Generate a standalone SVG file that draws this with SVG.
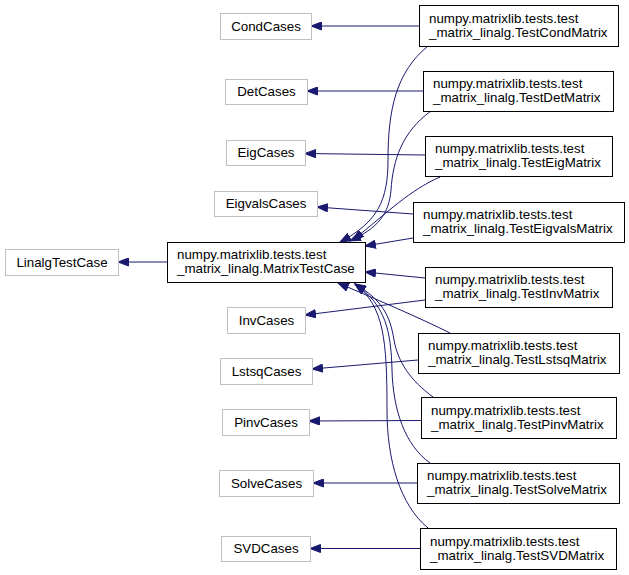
<svg xmlns="http://www.w3.org/2000/svg" width="629" height="575" viewBox="0 0 629 575">
<style>
  .g rect { fill: #ffffff; stroke: #c0c0c0; stroke-width: 1; }
  .k rect { fill: #ffffff; stroke: #000000; stroke-width: 1; }
  text { font-family: "Liberation Sans", Arial, sans-serif; font-size: 13.33px; fill: #000000; }
  .c { text-anchor: middle; }
  #edges path { fill: none; stroke: #191970; stroke-width: 1; marker-end: url(#arr); }
</style>
<defs>
  <marker id="arr" markerWidth="12" markerHeight="9" refX="11" refY="4.5" orient="auto" markerUnits="userSpaceOnUse">
    <path d="M0.5,0.5 L11,4.5 L0.5,8.5 z" fill="#191970" stroke="#191970" stroke-width="1"/>
  </marker>
</defs>
<rect width="629" height="575" fill="#ffffff"/>

<g id="edges">
  <path d="M167,262 L118,262"/>
  <path d="M419,26 L311,26"/>
  <path d="M423,91 L307,91"/>
  <path d="M425,155 L305,153.5"/>
  <path d="M413,214 L317,207"/>
  <path d="M425,300 L305,315"/>
  <path d="M418,360 L312,369"/>
  <path d="M421,420.5 L309,421"/>
  <path d="M417,483 L313,483"/>
  <path d="M420,548.5 L310,548.5"/>
  <path d="M428,46 C 396,72 388,110 388,160 C 388,200 378,222 340,242"/>
  <path d="M431,111 C 402,132 393,160 391,190 C 389,214 378,228 350,241"/>
  <path d="M440,177 C 410,190 388,212 353,240"/>
  <path d="M413,238 L365,246"/>
  <path d="M425,278 L365,272"/>
  <path d="M450,333 C 420,318 378,300 338,283"/>
  <path d="M433,397 C 410,380 398,362 394,340 C 390,315 382,300 355,284"/>
  <path d="M430,463 C 405,445 393,410 392,370 C 391,332 386,305 355,284"/>
  <path d="M428,528 C 400,505 387,460 387,410 C 387,340 384,306 355,284"/>
</g>

<g id="LinalgTestCase" class="g"><rect x="5.5" y="249.5" width="113" height="26"/><text class="c" x="62" y="266.5">LinalgTestCase</text></g>
<g id="MatrixTestCase" class="k"><rect x="167.5" y="242.5" width="198" height="40"/><text x="177" y="259">numpy.matrixlib.tests.test</text><text x="177" y="273">_matrix_linalg.MatrixTestCase</text></g>

<g id="CondCases" class="g"><rect x="220.5" y="13.5" width="91" height="26"/><text class="c" x="266" y="30.5">CondCases</text></g>
<g id="DetCases" class="g"><rect x="225.5" y="79.5" width="82" height="25"/><text class="c" x="266.5" y="96">DetCases</text></g>
<g id="EigCases" class="g"><rect x="226.5" y="140.5" width="79" height="25"/><text class="c" x="266" y="157">EigCases</text></g>
<g id="EigvalsCases" class="g"><rect x="214.5" y="191.5" width="103" height="25"/><text class="c" x="266" y="208">EigvalsCases</text></g>
<g id="InvCases" class="g"><rect x="227.5" y="307.5" width="78" height="26"/><text class="c" x="266.5" y="324.5">InvCases</text></g>
<g id="LstsqCases" class="g"><rect x="220.5" y="358.5" width="92" height="26"/><text class="c" x="266.5" y="375.5">LstsqCases</text></g>
<g id="PinvCases" class="g"><rect x="222.5" y="409.5" width="87" height="26"/><text class="c" x="266" y="426.5">PinvCases</text></g>
<g id="SolveCases" class="g"><rect x="219.5" y="470.5" width="94" height="26"/><text class="c" x="266.5" y="487.5">SolveCases</text></g>
<g id="SVDCases" class="g"><rect x="221.5" y="536.5" width="89" height="25"/><text class="c" x="266" y="553">SVDCases</text></g>

<g id="TestCondMatrix" class="k"><rect x="419.5" y="5.5" width="199" height="41"/><text x="429" y="23">numpy.matrixlib.tests.test</text><text x="429" y="37">_matrix_linalg.TestCondMatrix</text></g>
<g id="TestDetMatrix" class="k"><rect x="423.5" y="71.5" width="190" height="40"/><text x="433" y="88">numpy.matrixlib.tests.test</text><text x="433" y="102">_matrix_linalg.TestDetMatrix</text></g>
<g id="TestEigMatrix" class="k"><rect x="425.5" y="136.5" width="187" height="40"/><text x="435" y="153">numpy.matrixlib.tests.test</text><text x="435" y="167">_matrix_linalg.TestEigMatrix</text></g>
<g id="TestEigvalsMatrix" class="k"><rect x="413.5" y="202.5" width="211" height="40"/><text x="423" y="219">numpy.matrixlib.tests.test</text><text x="423" y="233">_matrix_linalg.TestEigvalsMatrix</text></g>
<g id="TestInvMatrix" class="k"><rect x="425.5" y="267.5" width="187" height="40"/><text x="435" y="284">numpy.matrixlib.tests.test</text><text x="435" y="298">_matrix_linalg.TestInvMatrix</text></g>
<g id="TestLstsqMatrix" class="k"><rect x="418.5" y="333.5" width="201" height="40"/><text x="428" y="350">numpy.matrixlib.tests.test</text><text x="428" y="364">_matrix_linalg.TestLstsqMatrix</text></g>
<g id="TestPinvMatrix" class="k"><rect x="421.5" y="397.5" width="195" height="41"/><text x="431" y="415">numpy.matrixlib.tests.test</text><text x="431" y="429">_matrix_linalg.TestPinvMatrix</text></g>
<g id="TestSolveMatrix" class="k"><rect x="417.5" y="463.5" width="202" height="40"/><text x="427" y="480">numpy.matrixlib.tests.test</text><text x="427" y="494">_matrix_linalg.TestSolveMatrix</text></g>
<g id="TestSVDMatrix" class="k"><rect x="420.5" y="528.5" width="196" height="41"/><text x="430" y="546">numpy.matrixlib.tests.test</text><text x="430" y="560">_matrix_linalg.TestSVDMatrix</text></g>
</svg>
